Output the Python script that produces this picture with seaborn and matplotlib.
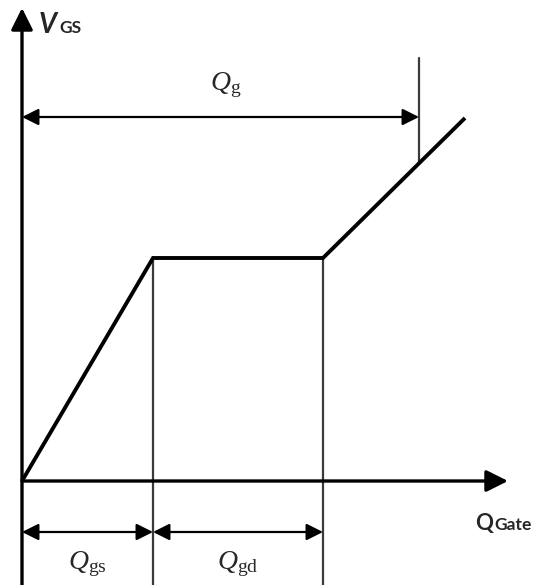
import matplotlib.pyplot as plt
import seaborn as sns
import pandas as pd

# gate charge curve (arbitrary units)
q_gate = [0, 131, 301, 443]
v_gs = [0, 223, 223, 363]

# charge markers
q_gs = 131
q_gd_end = 301
q_g = 397
v_qg_top = 423
v_qg_arrow = 364
v_low_arrow = -51

sns.set_style("white")
plt.rcParams["mathtext.fontset"] = "custom"
plt.rcParams["mathtext.rm"] = "Liberation Serif"
plt.rcParams["mathtext.it"] = "Liberation Serif:italic"

fig = plt.figure(figsize=(5.55, 5.85), dpi=100)
ax = fig.add_axes([0, 0, 1, 1])
ax.set_xlim(-22, 533)
ax.set_ylim(-104, 481)
ax.set_axis_off()

data = pd.DataFrame({"Q": q_gate, "V": v_gs})
sns.lineplot(data=data, x="Q", y="V", ax=ax, color="black", lw=2.8,
             solid_joinstyle="miter", solid_capstyle="butt", zorder=3)

# axes with arrows
axis_kw = dict(arrowstyle="-|>,head_length=0.6,head_width=0.3", color="black",
               lw=2.4, mutation_scale=22, shrinkA=0, shrinkB=0)
ax.annotate("", xy=(0, 473), xytext=(0, -104), arrowprops=axis_kw)
ax.annotate("", xy=(486, 0), xytext=(0, 0), arrowprops=axis_kw)

# thin guide lines
guide = dict(color="#3a3a3a", lw=1.6)
ax.plot([q_gs, q_gs], [-104, v_gs[1]], **guide)
ax.plot([q_gd_end, q_gd_end], [-104, v_gs[2]], **guide)
ax.plot([q_g, q_g], [v_qg_top, 318], **guide)

# dimension arrows
dim_kw = dict(arrowstyle="<|-|>,head_length=0.5,head_width=0.25", color="black",
              lw=1.6, mutation_scale=20, shrinkA=0, shrinkB=0)
ax.annotate("", xy=(q_g, v_qg_arrow), xytext=(0, v_qg_arrow), arrowprops=dim_kw)
ax.annotate("", xy=(q_gs, v_low_arrow), xytext=(0, v_low_arrow), arrowprops=dim_kw)
ax.annotate("", xy=(q_gd_end, v_low_arrow), xytext=(q_gs, v_low_arrow), arrowprops=dim_kw)

# labels
ax.text(q_g / 2 + 5, 396, r"$Q_{\mathrm{g}}$", fontsize=20, ha="center", va="center")
ax.text(q_gs / 2, -83, r"$Q_{\mathrm{gs}}$", fontsize=20, ha="center", va="center")
ax.text((q_gs + q_gd_end) / 2, -83, r"$Q_{\mathrm{gd}}$", fontsize=20,
        ha="center", va="center")

sans = ["Lato", "DejaVu Sans"]
ax.text(17, 448, "V", family=sans, fontsize=20, fontweight="bold",
        fontstyle="italic", va="baseline")
ax.text(37, 448, "GS", family=sans, fontsize=12.5, fontweight="bold",
        va="baseline")
ax.text(453, -49, "Q", family=sans, fontsize=16, fontweight="bold",
        va="baseline")
ax.text(472, -49, "Gate", family=sans, fontsize=12.5, fontweight="bold",
        va="baseline")

fig.savefig("out.png", dpi=100)
